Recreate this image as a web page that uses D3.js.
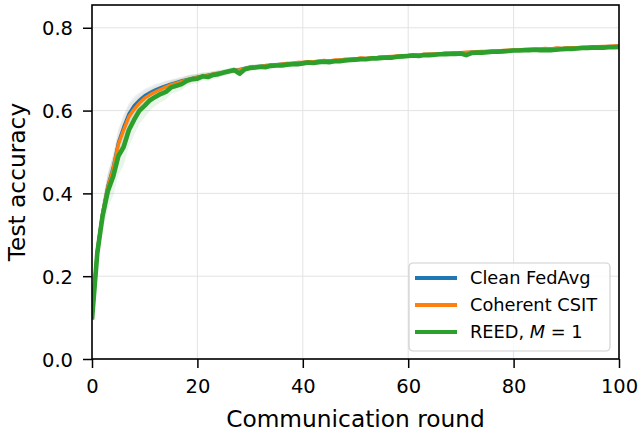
<!DOCTYPE html>
<html>
<head>
<meta charset="utf-8">
<script src="https://cdn.jsdelivr.net/npm/d3@7"></script>
<style>
body { margin: 0; background: #fff; }
text { font-family: "DejaVu Sans", sans-serif; fill: #000; }
</style>
</head>
<body>
<div id="chart"></div>
<script>
// rounds 0..100
var rounds = d3.range(0, 101);

var cleanFedAvg = [
0.100,0.262,0.352,0.418,0.462,0.522,0.560,0.592,0.612,0.625,
0.636,0.643,0.650,0.655,0.660,0.664,0.668,0.672,0.675,0.678,
0.681,0.683,0.686,0.688,0.690,0.692,0.695,0.697,0.699,0.702,
0.705,0.706,0.707,0.708,0.710,0.711,0.712,0.713,0.714,0.715,
0.716,0.717,0.718,0.719,0.720,0.720,0.721,0.722,0.723,0.724,
0.725,0.726,0.726,0.727,0.728,0.729,0.730,0.730,0.731,0.732,
0.733,0.734,0.734,0.735,0.736,0.736,0.737,0.738,0.738,0.739,
0.740,0.740,0.741,0.741,0.742,0.743,0.743,0.744,0.744,0.745,
0.746,0.746,0.747,0.747,0.748,0.748,0.749,0.749,0.750,0.750,
0.751,0.751,0.752,0.752,0.753,0.753,0.754,0.754,0.755,0.755,
0.756];

var coherentCSIT = [
0.100,0.258,0.350,0.415,0.458,0.518,0.553,0.585,0.603,0.618,
0.630,0.638,0.645,0.651,0.657,0.662,0.666,0.670,0.674,0.677,
0.680,0.683,0.685,0.688,0.691,0.692,0.694,0.697,0.698,0.701,
0.704,0.706,0.706,0.709,0.710,0.710,0.712,0.714,0.714,0.716,
0.716,0.718,0.718,0.719,0.721,0.720,0.722,0.722,0.724,0.724,
0.725,0.727,0.726,0.728,0.728,0.730,0.730,0.731,0.732,0.732,
0.733,0.735,0.734,0.736,0.736,0.737,0.737,0.739,0.738,0.740,
0.740,0.741,0.741,0.742,0.743,0.743,0.744,0.744,0.745,0.746,
0.746,0.747,0.747,0.748,0.748,0.749,0.750,0.749,0.751,0.750,
0.751,0.752,0.752,0.753,0.753,0.754,0.754,0.755,0.755,0.756,
0.756];

var reedM1 = [
0.095,0.255,0.345,0.405,0.440,0.490,0.512,0.553,0.578,0.600,
0.612,0.625,0.633,0.640,0.645,0.656,0.660,0.664,0.672,0.676,
0.677,0.683,0.681,0.686,0.688,0.692,0.695,0.698,0.689,0.700,
0.703,0.704,0.706,0.705,0.708,0.709,0.709,0.711,0.712,0.712,
0.714,0.716,0.715,0.717,0.718,0.717,0.719,0.719,0.721,0.722,
0.723,0.724,0.724,0.726,0.726,0.727,0.728,0.728,0.730,0.731,
0.732,0.733,0.732,0.734,0.734,0.735,0.736,0.736,0.737,0.737,
0.738,0.734,0.739,0.740,0.740,0.741,0.742,0.742,0.743,0.744,
0.745,0.745,0.746,0.746,0.747,0.746,0.746,0.746,0.747,0.748,
0.749,0.749,0.750,0.751,0.751,0.752,0.752,0.752,0.753,0.753,
0.754];

// spread (std over runs) for the shaded bands
var cleanStd = [
0.004,0.020,0.027,0.030,0.032,0.032,0.030,0.026,0.022,0.019,
0.017,0.015,0.014,0.013,0.012,0.011,0.010,0.010,0.009,0.009,
0.008,0.008,0.007,0.007,0.007,0.006,0.006,0.006,0.006,0.006,
0.005,0.005,0.005,0.005,0.005,0.005,0.005,0.005,0.005,0.005,
0.005,0.005,0.004,0.004,0.004,0.004,0.004,0.004,0.004,0.004,
0.004,0.004,0.004,0.004,0.004,0.004,0.004,0.004,0.004,0.004,
0.004,0.004,0.004,0.004,0.004,0.004,0.004,0.004,0.004,0.004,
0.004,0.004,0.004,0.004,0.004,0.004,0.004,0.004,0.004,0.004,
0.004,0.004,0.004,0.004,0.004,0.004,0.004,0.004,0.004,0.004,
0.004,0.004,0.004,0.004,0.004,0.004,0.004,0.004,0.004,0.004,
0.004];

var coherentStd = [
0.004,0.022,0.029,0.032,0.034,0.034,0.032,0.028,0.024,0.021,
0.018,0.016,0.015,0.014,0.013,0.012,0.011,0.010,0.010,0.009,
0.009,0.008,0.008,0.007,0.007,0.007,0.006,0.006,0.006,0.006,
0.006,0.005,0.005,0.005,0.005,0.005,0.005,0.005,0.005,0.005,
0.005,0.005,0.005,0.004,0.004,0.004,0.004,0.004,0.004,0.004,
0.004,0.004,0.004,0.004,0.004,0.004,0.004,0.004,0.004,0.004,
0.004,0.004,0.004,0.004,0.004,0.004,0.004,0.004,0.004,0.004,
0.004,0.004,0.004,0.004,0.004,0.004,0.004,0.004,0.004,0.004,
0.004,0.004,0.004,0.004,0.004,0.004,0.004,0.004,0.004,0.004,
0.004,0.004,0.004,0.004,0.004,0.004,0.004,0.004,0.004,0.004,
0.004];

var reedStd = [
0.005,0.026,0.036,0.042,0.046,0.046,0.044,0.040,0.036,0.032,
0.028,0.025,0.022,0.020,0.018,0.016,0.015,0.014,0.013,0.012,
0.011,0.010,0.010,0.009,0.009,0.008,0.008,0.008,0.007,0.007,
0.007,0.007,0.007,0.006,0.006,0.006,0.006,0.006,0.006,0.006,
0.006,0.006,0.005,0.005,0.005,0.005,0.005,0.005,0.005,0.005,
0.005,0.005,0.005,0.005,0.005,0.005,0.005,0.005,0.005,0.005,
0.005,0.005,0.005,0.005,0.005,0.005,0.005,0.005,0.005,0.005,
0.005,0.005,0.005,0.005,0.005,0.005,0.005,0.005,0.005,0.005,
0.005,0.005,0.005,0.005,0.005,0.005,0.005,0.005,0.005,0.005,
0.005,0.005,0.005,0.005,0.005,0.005,0.005,0.005,0.005,0.005,
0.005];

var seriesNames = ["Clean FedAvg", "Coherent CSIT", "REED"];
var seriesColors = ["#1f77b4", "#ff7f0e", "#2ca02c"];
var xTicks = [0, 20, 40, 60, 80, 100];
var yTicks = [0, 0.2, 0.4, 0.6, 0.8];

var width = 641, height = 435;
var margin = {top: 5, right: 22, bottom: 76, left: 92};

var svg = d3.select("#chart")
    .append("svg")
    .attr("width", width)
    .attr("height", height);

var xScale = d3.scaleLinear()
    .domain([0, 100])
    .range([margin.left, width - margin.right]);

var yScale = d3.scaleLinear()
    .domain([0, 0.855])
    .range([height - margin.bottom, margin.top]);

// grid
svg.append("g")
    .selectAll("line.vgrid")
    .data(xTicks)
    .enter().append("line")
    .attr("x1", function(d) { return xScale(d); })
    .attr("x2", function(d) { return xScale(d); })
    .attr("y1", margin.top)
    .attr("y2", height - margin.bottom)
    .attr("stroke", "#e3e3e3")
    .attr("stroke-width", 1);

svg.append("g")
    .selectAll("line.hgrid")
    .data(yTicks)
    .enter().append("line")
    .attr("x1", margin.left)
    .attr("x2", width - margin.right)
    .attr("y1", function(d) { return yScale(d); })
    .attr("y2", function(d) { return yScale(d); })
    .attr("stroke", "#e3e3e3")
    .attr("stroke-width", 1);

svg.append("clipPath")
    .attr("id", "plotclip")
    .append("rect")
    .attr("x", margin.left)
    .attr("y", margin.top)
    .attr("width", width - margin.left - margin.right)
    .attr("height", height - margin.top - margin.bottom);

var plot = svg.append("g").attr("clip-path", "url(#plotclip)");

var means = [cleanFedAvg, coherentCSIT, reedM1];
var stds = [cleanStd, coherentStd, reedStd];
var lineWidths = [3.2, 3.4, 4.6];

// shaded bands first, all under the lines
means.forEach(function(m, i) {
    var area = d3.area()
        .x(function(d) { return xScale(d); })
        .y0(function(d) { return yScale(m[d] - stds[i][d]); })
        .y1(function(d) { return yScale(m[d] + stds[i][d]); });
    plot.append("path")
        .datum(rounds)
        .attr("fill", seriesColors[i])
        .attr("fill-opacity", 0.1)
        .attr("d", area);
});

means.forEach(function(m, i) {
    var line = d3.line()
        .x(function(d) { return xScale(d); })
        .y(function(d) { return yScale(m[d]); });
    plot.append("path")
        .datum(rounds)
        .attr("fill", "none")
        .attr("stroke", seriesColors[i])
        .attr("stroke-width", lineWidths[i])
        .attr("stroke-linejoin", "round")
        .attr("d", line);
});

// axes
var xAxis = d3.axisBottom(xScale)
    .tickValues(xTicks)
    .tickSize(9)
    .tickFormat(d3.format("d"));

var gx = svg.append("g")
    .attr("transform", "translate(0," + (height - margin.bottom) + ")")
    .call(xAxis);
gx.select(".domain").remove();
gx.selectAll("line").attr("stroke", "#000").attr("stroke-width", 1.5);
gx.selectAll("text")
    .attr("y", 34)
    .attr("dy", null)
    .style("font-size", "19.5px")
    .style("font-family", "DejaVu Sans");

var yAxis = d3.axisLeft(yScale)
    .tickValues(yTicks)
    .tickSize(9)
    .tickPadding(10)
    .tickFormat(d3.format(".1f"));

var gy = svg.append("g")
    .attr("transform", "translate(" + margin.left + ",0)")
    .call(yAxis);
gy.select(".domain").remove();
gy.selectAll("line").attr("stroke", "#000").attr("stroke-width", 1.5);
gy.selectAll("text")
    .attr("dy", "0.36em")
    .style("font-size", "19.5px")
    .style("font-family", "DejaVu Sans");

// spines
svg.append("rect")
    .attr("x", margin.left)
    .attr("y", margin.top)
    .attr("width", width - margin.left - margin.right)
    .attr("height", height - margin.top - margin.bottom)
    .attr("fill", "none")
    .attr("stroke", "#000")
    .attr("stroke-width", 1.6);

// labels
svg.append("text")
    .text("Communication round")
    .attr("text-anchor", "middle")
    .attr("x", (margin.left + width - margin.right) / 2)
    .attr("y", 427)
    .style("font-size", "23.3px");

svg.append("g")
    .attr("transform", "translate(25," + (margin.top + height - margin.bottom) / 2 + ")")
    .append("text")
    .text("Test accuracy")
    .attr("text-anchor", "middle")
    .attr("transform", "rotate(-90)")
    .style("font-size", "23.3px");

// legend
var legend = svg.append("g").attr("transform", "translate(409,263)");
legend.append("rect")
    .attr("width", 201)
    .attr("height", 88)
    .attr("rx", 4)
    .attr("fill", "#fff")
    .attr("fill-opacity", 0.85)
    .attr("stroke", "#d0d0d0")
    .attr("stroke-width", 1.2);

var rowY = [15, 42, 69];
seriesNames.forEach(function(name, i) {
    legend.append("line")
        .attr("x1", 6)
        .attr("x2", 48)
        .attr("y1", rowY[i])
        .attr("y2", rowY[i])
        .attr("stroke", seriesColors[i])
        .attr("stroke-width", 4);
    var t = legend.append("text")
        .attr("x", 61)
        .attr("y", rowY[i])
        .attr("dy", "0.36em")
        .style("font-size", "17.8px");
    if (i == 2) {
        t.append("tspan").text("REED, ");
        t.append("tspan").text("M").style("font-style", "italic");
        t.append("tspan").text(" = 1");
    } else {
        t.text(name);
    }
});
</script>
</body>
</html>
